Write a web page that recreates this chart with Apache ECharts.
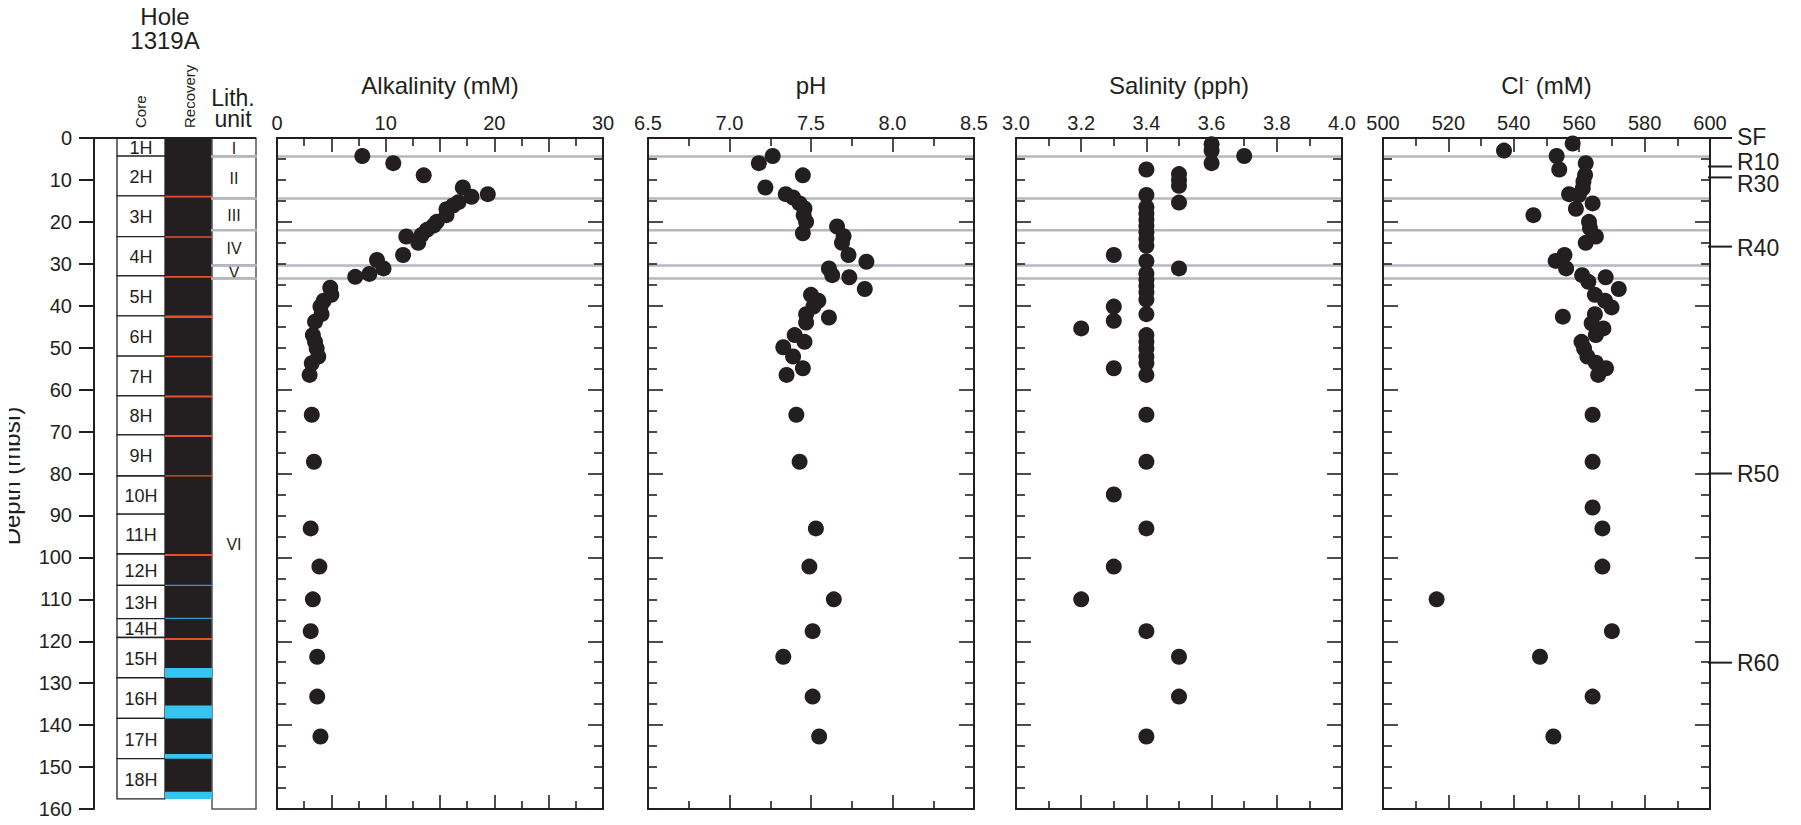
<!DOCTYPE html>
<html>
<head>
<meta charset="utf-8">
<title>Hole 1319A pore water geochemistry</title>
<script src="https://cdn.jsdelivr.net/npm/echarts/dist/echarts.min.js"></script>
<style>
  html, body { margin: 0; padding: 0; background: #fff; }
  #chart { width: 1801px; height: 825px; }
</style>
</head>
<body>
<div id="chart"></div>
<script>
// ---------- Core log, Hole 1319A (depths in mbsf) ----------
const coreNames   = ['1H','2H','3H','4H','5H','6H','7H','8H','9H','10H','11H','12H','13H','14H','15H','16H','17H','18H'];
const coreTop     = [0, 4.3, 13.8, 23.5, 32.9, 42.4, 52.0, 61.5, 70.8, 80.6, 89.7, 99.2, 106.7, 114.6, 119.1, 128.7, 138.4, 148.0];
const coreBottom  = [4.3, 13.8, 23.5, 32.9, 42.4, 52.0, 61.5, 70.8, 80.6, 89.7, 99.2, 106.7, 114.6, 119.1, 128.7, 138.4, 148.0, 157.6];

// Recovery column: recovered core, red and blue markers, cyan intervals
const recoveredIntervals = [[0, 157.6]];
const redIntervals  = [[13.8, 14.2], [23.4, 23.8], [32.9, 33.3], [42.3, 42.9], [51.9, 52.3], [61.4, 61.9], [70.8, 71.3], [80.4, 80.7], [99.2, 99.7], [119.2, 119.7]];
const blueIntervals = [[106.5, 106.8], [114.4, 114.7]];
const cyanIntervals = [[126.4, 128.7], [135.3, 138.4], [146.9, 148.0], [155.9, 157.6]];

// Lithostratigraphic units
const lithUnits  = ['I', 'II', 'III', 'IV', 'V', 'VI'];
const lithTop    = [0, 4.4, 14.4, 22.0, 30.4, 33.5];
const lithBottom = [4.4, 14.4, 22.0, 30.4, 33.5, 160];

// Seismic reflectors
const reflectorNames = ['SF', 'R10', 'R30', 'R40', 'R50', 'R60'];
const reflectorDepth = [0, 6.8, 9.4, 25.9, 80.0, 125.1];

// ---------- Pore water data ----------
const alkDepth = [4.3, 6.0, 8.9, 11.8, 13.4, 14.0, 15.3, 16.1, 17.0, 18.4, 20.0, 20.9, 21.9, 23.1, 23.5, 25.0, 27.9, 29.1, 31.1, 32.4, 33.1, 35.7, 37.4, 38.8, 40.2, 42.0, 43.8, 47.0, 48.6, 50.2, 52.1, 53.7, 56.5, 66.0, 77.2, 93.1, 102.2, 110.0, 117.6, 123.7, 133.2, 142.7];
const alkValue = [7.85, 10.7, 13.5, 17.1, 19.4, 17.9, 16.7, 16.2, 15.6, 15.6, 14.7, 14.4, 13.8, 13.3, 11.9, 13.0, 11.6, 9.2, 9.8, 8.5, 7.2, 4.9, 5.0, 4.3, 4.0, 4.1, 3.5, 3.3, 3.5, 3.65, 3.8, 3.2, 3.0, 3.2, 3.4, 3.1, 3.9, 3.3, 3.1, 3.7, 3.7, 4.0];

const phDepth = [4.3, 6.0, 8.9, 11.8, 13.4, 14.2, 15.6, 16.8, 18.4, 20.0, 21.1, 22.7, 23.4, 25.0, 27.9, 29.5, 31.1, 32.7, 33.2, 36.0, 37.4, 38.8, 40.2, 42.0, 42.8, 44.0, 47.0, 48.6, 49.9, 52.1, 54.9, 56.5, 66.0, 77.2, 93.1, 102.2, 110.0, 117.6, 123.7, 133.2, 142.7];
const phValue = [7.265, 7.18, 7.45, 7.22, 7.345, 7.39, 7.43, 7.46, 7.455, 7.47, 7.66, 7.45, 7.70, 7.69, 7.73, 7.84, 7.61, 7.63, 7.735, 7.83, 7.50, 7.545, 7.515, 7.47, 7.61, 7.47, 7.40, 7.46, 7.33, 7.39, 7.45, 7.35, 7.41, 7.43, 7.53, 7.49, 7.64, 7.51, 7.33, 7.51, 7.55];

const salDepth = [1.5, 3.0, 4.3, 6.0, 7.5, 8.6, 10.0, 11.4, 13.6, 15.4, 16.5, 18.0, 19.5, 21.0, 22.5, 24.0, 25.7, 27.9, 29.4, 31.1, 32.3, 33.8, 35.3, 36.8, 38.5, 40.2, 42.0, 43.6, 45.4, 47.0, 48.6, 50.2, 52.1, 53.7, 54.9, 56.5, 66.0, 77.2, 85.0, 93.1, 102.2, 110.0, 117.6, 123.7, 133.2, 142.7];
const salValue = [3.6, 3.6, 3.7, 3.6, 3.4, 3.5, 3.5, 3.5, 3.4, 3.5, 3.4, 3.4, 3.4, 3.4, 3.4, 3.4, 3.4, 3.3, 3.4, 3.5, 3.4, 3.4, 3.4, 3.4, 3.4, 3.3, 3.4, 3.3, 3.2, 3.4, 3.4, 3.4, 3.4, 3.4, 3.3, 3.4, 3.4, 3.4, 3.3, 3.4, 3.3, 3.2, 3.4, 3.5, 3.5, 3.4];

const clDepth = [1.3, 3.0, 4.3, 6.0, 7.5, 8.8, 10.4, 12.0, 13.4, 13.6, 15.6, 16.9, 18.4, 20.0, 21.5, 23.5, 25.0, 27.9, 29.3, 31.1, 32.7, 33.2, 34.3, 36.0, 37.4, 38.8, 40.4, 42.0, 42.6, 44.2, 45.4, 47.0, 48.6, 50.2, 52.1, 53.6, 54.9, 56.5, 66.0, 77.2, 88.1, 93.1, 102.2, 110.0, 117.6, 123.7, 133.2, 142.7];
const clValue = [558.0, 537.0, 553.1, 562.0, 553.9, 561.8, 561.3, 561.1, 556.9, 559.9, 564.1, 559.0, 546.0, 563.0, 563.3, 565.1, 562.0, 555.5, 552.8, 556.0, 560.9, 568.1, 562.8, 572.1, 564.8, 567.9, 569.9, 564.8, 555.0, 563.8, 567.4, 565.1, 560.7, 561.5, 562.5, 565.1, 568.2, 565.8, 564.1, 564.1, 564.1, 567.1, 567.1, 516.4, 570.0, 548.0, 564.1, 552.1];

// ---------- Layout & style ----------
const FONT = '"Liberation Sans", Arial, Helvetica, sans-serif';
const INK = '#231f20';
const LITH_GRAY = '#b3b9c0';
const RED = '#e4502b';
const CYAN = '#35c4f0';
const BLUE = '#2b9bd0';
const PLOT_TOP = 138;
const PLOT_H = 671;
const DEPTH_MIN = 0, DEPTH_MAX = 160;

// Strat column grid spans x 94..256; x-axis units are pixel offsets inside it
const STRAT = { left: 94, width: 162, coreL: 23, coreR: 71, recL: 71, recR: 118, lithL: 118, lithR: 162 };

const panels = [
  { left: 277,  width: 326, title: 'Alkalinity (mM)', min: 0,   max: 30,  step: 5,   fmt: v => (Math.round(v) % 10 === 0 ? String(Math.round(v)) : ''), x: alkValue, y: alkDepth },
  { left: 648,  width: 326, title: 'pH',              min: 6.5, max: 8.5, step: 0.5, fmt: v => v.toFixed(1), x: phValue,  y: phDepth },
  { left: 1016, width: 326, title: 'Salinity (pph)',  min: 3.0, max: 4.0, step: 0.2, fmt: v => v.toFixed(1), x: salValue, y: salDepth },
  { left: 1383, width: 327, title: 'Cl{s|-}{n| (mM)}', min: 500, max: 600, step: 20, fmt: v => String(Math.round(v)), x: clValue, y: clDepth }
];
const reflectorLabelShift = { SF: -1, R10: -5, R30: 7, R40: 1 };

const grid = [{ left: STRAT.left, top: PLOT_TOP, width: STRAT.width, height: PLOT_H }];
const xAxis = [{ gridIndex: 0, type: 'value', min: 0, max: STRAT.width, show: false }];
const yAxis = [{
  gridIndex: 0, type: 'value', inverse: true, min: DEPTH_MIN, max: DEPTH_MAX, interval: 10,
  axisLine: { show: true, lineStyle: { color: INK, width: 2 } },
  axisTick: { show: true, inside: false, length: 15, lineStyle: { color: INK, width: 2 } },
  axisLabel: { show: true, margin: 22, fontSize: 20, color: INK, fontFamily: FONT },
  splitLine: { show: false }
}];

const series = [];

function rectBand(intervals, color, x0, x1, z) {
  return {
    type: 'custom', xAxisIndex: 0, yAxisIndex: 0, z: z, silent: true,
    data: intervals.map(iv => [iv[0], iv[1]]),
    encode: { y: [0, 1] },
    renderItem: (params, api) => {
      const a = api.coord([x0, api.value(0)]);
      const b = api.coord([x1, api.value(1)]);
      return { type: 'rect', shape: { x: a[0], y: a[1], width: b[0] - a[0], height: Math.max(b[1] - a[1], 1.2) }, style: { fill: color } };
    }
  };
}

// Core boxes with names
series.push({
  type: 'custom', xAxisIndex: 0, yAxisIndex: 0, z: 2, silent: true,
  data: coreTop.map((t, i) => [t, coreBottom[i]]),
  encode: { y: [0, 1] },
  renderItem: (params, api) => {
    const a = api.coord([STRAT.coreL, api.value(0)]);
    const b = api.coord([STRAT.coreR, api.value(1)]);
    return {
      type: 'group', children: [
        { type: 'rect', shape: { x: a[0], y: a[1], width: b[0] - a[0], height: b[1] - a[1] }, style: { fill: '#fff', stroke: INK, lineWidth: 1.3 } },
        { type: 'text', style: { text: coreNames[params.dataIndex], x: (a[0] + b[0]) / 2, y: (a[1] + b[1]) / 2 + 1, align: 'center', verticalAlign: 'middle', fontSize: 18, fontFamily: FONT, fill: INK } }
      ]
    };
  }
});

// Recovery column
series.push(rectBand(recoveredIntervals, INK, STRAT.recL, STRAT.recR, 2));
series.push(rectBand(redIntervals, RED, STRAT.recL, STRAT.recR, 3));
series.push(rectBand(blueIntervals, BLUE, STRAT.recL, STRAT.recR, 3));
series.push(rectBand(cyanIntervals, CYAN, STRAT.recL, STRAT.recR, 3));

// Lithologic units column
series.push({
  type: 'custom', xAxisIndex: 0, yAxisIndex: 0, z: 2, silent: true,
  data: lithTop.map((t, i) => [t, lithBottom[i]]),
  encode: { y: [0, 1] },
  renderItem: (params, api) => {
    const a = api.coord([STRAT.lithL, api.value(0)]);
    const b = api.coord([STRAT.lithR, api.value(1)]);
    const kids = [
      { type: 'rect', shape: { x: a[0], y: a[1], width: b[0] - a[0], height: b[1] - a[1] }, style: { fill: '#fff', stroke: '#555', lineWidth: 1.5 } },
      { type: 'text', style: { text: lithUnits[params.dataIndex], x: (a[0] + b[0]) / 2, y: (a[1] + b[1]) / 2 + 1, align: 'center', verticalAlign: 'middle', fontSize: 16, fontFamily: FONT, fill: INK } }
    ];
    if (params.dataIndex > 0) {
      kids.push({ type: 'line', shape: { x1: a[0] - 1, y1: a[1], x2: b[0] + 1, y2: a[1] }, style: { stroke: LITH_GRAY, lineWidth: 2.5 } });
    } else {
      const o = api.coord([0, api.value(0)]);
      kids.push({ type: 'line', shape: { x1: o[0], y1: o[1], x2: b[0], y2: o[1] }, style: { stroke: INK, lineWidth: 2 } });
    }
    return { type: 'group', children: kids };
  }
});

// Data panels
panels.forEach((p, i) => {
  const gi = i + 1;
  grid.push({ left: p.left, top: PLOT_TOP, width: p.width, height: PLOT_H });
  const tick = { show: true, inside: true, length: 14, lineStyle: { color: INK, width: 1.6 } };
  const minor = (n, len) => ({ show: true, splitNumber: n, length: len, lineStyle: { color: INK, width: 1.6 } });
  const line = { show: true, onZero: false, lineStyle: { color: INK, width: 2 } };
  xAxis.push({
    gridIndex: gi, type: 'value', position: 'top', min: p.min, max: p.max, interval: p.step, z: 4,
    axisLine: line, axisTick: tick, minorTick: minor(2, 8),
    axisLabel: { show: true, margin: 5, fontSize: 20, color: INK, fontFamily: FONT, formatter: p.fmt, showMinLabel: true, showMaxLabel: true },
    splitLine: { show: false }, minorSplitLine: { show: false }
  });
  xAxis.push({
    gridIndex: gi, type: 'value', position: 'bottom', min: p.min, max: p.max, interval: p.step, z: 4,
    axisLine: line, axisTick: tick, minorTick: minor(2, 8),
    axisLabel: { show: false }, splitLine: { show: false }
  });
  ['left', 'right'].forEach(pos => {
    yAxis.push({
      gridIndex: gi, type: 'value', position: pos, inverse: true, min: DEPTH_MIN, max: DEPTH_MAX, interval: 20, z: 4,
      axisLine: line, axisTick: { show: true, inside: true, length: 15, lineStyle: { color: INK, width: 1.6 } },
      minorTick: minor(4, 9), axisLabel: { show: false }, splitLine: { show: false }
    });
  });
  const xi = 1 + 2 * i, yi = 1 + 2 * i;
  // unit boundaries across the panel
  series.push({
    type: 'custom', xAxisIndex: xi, yAxisIndex: yi, z: 1, silent: true,
    data: lithTop.slice(1).map(d => [d]),
    encode: { y: 0 },
    renderItem: (params, api) => {
      const a = api.coord([p.min, api.value(0)]);
      const b = api.coord([p.max, api.value(0)]);
      return { type: 'line', shape: { x1: a[0], y1: a[1], x2: b[0], y2: b[1] }, style: { stroke: LITH_GRAY, lineWidth: 2.5 } };
    }
  });
  series.push({
    type: 'scatter', xAxisIndex: xi, yAxisIndex: yi, z: 3, silent: true,
    symbol: 'circle', symbolSize: 16, itemStyle: { color: INK, opacity: 1 },
    data: p.x.map((v, k) => [v, p.y[k]])
  });
});

// Seismic reflector ticks to the right of the Cl panel
const clPanel = panels[3];
series.push({
  type: 'custom', xAxisIndex: 7, yAxisIndex: 7, z: 5, silent: true,
  data: reflectorDepth.map(d => [d]),
  encode: { y: 0 },
  renderItem: (params, api) => {
    const pt = api.coord([clPanel.max, api.value(0)]);
    const name = reflectorNames[params.dataIndex];
    const dy = reflectorLabelShift[name] || 0;
    return {
      type: 'group', children: [
        { type: 'line', shape: { x1: pt[0] - 2, y1: pt[1], x2: pt[0] + 22, y2: pt[1] }, style: { stroke: INK, lineWidth: 2 } },
        { type: 'text', style: { text: name, x: pt[0] + 27, y: pt[1] + dy, align: 'left', verticalAlign: 'middle', fontSize: 23, lineHeight: 21, fontFamily: FONT, fill: INK } }
      ]
    };
  }
});

// Headings
const txt = (text, x, y, size, extra) => Object.assign({
  type: 'text', x: x, y: y, z: 10, silent: true,
  style: { text: text, fontSize: size, fontFamily: FONT, fill: INK, align: 'center', verticalAlign: 'middle' }
}, extra || {});

const graphic = [
  txt('Hole\n1319A', 165, 28, 24, { style: { text: 'Hole\n1319A', fontSize: 24, lineHeight: 24, fontFamily: FONT, fill: INK, align: 'center', verticalAlign: 'middle' } }),
  txt('Core', 140.5, 128, 15, { rotation: Math.PI / 2, style: { text: 'Core', fontSize: 15, fontFamily: FONT, fill: INK, align: 'left', verticalAlign: 'middle' } }),
  txt('Recovery', 189, 128, 15, { rotation: Math.PI / 2, style: { text: 'Recovery', fontSize: 15, fontFamily: FONT, fill: INK, align: 'left', verticalAlign: 'middle' } }),
  txt('Lith.\nunit', 233, 108.5, 23, { style: { text: 'Lith.\nunit', fontSize: 23, lineHeight: 21, fontFamily: FONT, fill: INK, align: 'center', verticalAlign: 'middle' } }),
  txt('Depth (mbsf)', 11, 476, 24, { rotation: Math.PI / 2 }),
  { type: 'rect', z: 11, silent: true, shape: { x: 0, y: 380, width: 9, height: 200 }, style: { fill: '#fff' } }
];
panels.forEach(p => {
  const cx = p.left + p.width / 2;
  if (p.title.indexOf('{') >= 0) {
    graphic.push({
      type: 'text', x: cx, y: 85, z: 10, silent: true,
      style: {
        text: '{n|Cl}' + p.title.slice(2), align: 'center', verticalAlign: 'middle', fill: INK,
        rich: {
          n: { fontSize: 24, fontFamily: FONT, fill: INK, verticalAlign: 'middle' },
          s: { fontSize: 13, fontFamily: FONT, fill: INK, verticalAlign: 'top', padding: [0, 0, 0, 1] }
        }
      }
    });
  } else {
    graphic.push(txt(p.title, cx, 85, 24));
  }
});

const chart = echarts.init(document.getElementById('chart'), null, { renderer: 'svg', width: 1801, height: 825 });
chart.setOption({
  backgroundColor: '#fff',
  animation: false,
  grid: grid,
  xAxis: xAxis,
  yAxis: yAxis,
  series: series,
  graphic: graphic
});
</script>
</body>
</html>
